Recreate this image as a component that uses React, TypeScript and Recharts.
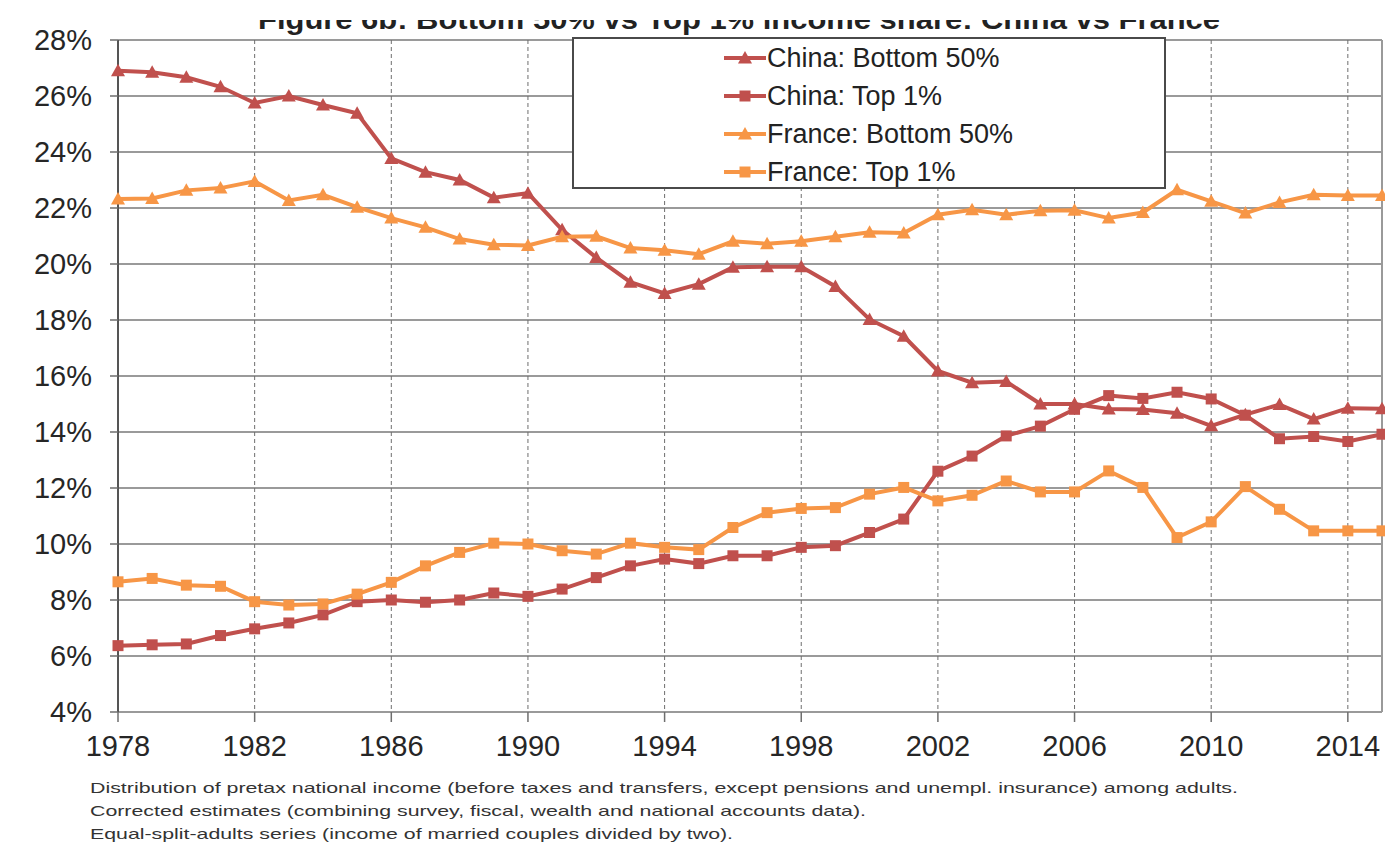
import { CartesianGrid, Legend, Line, LineChart, ReferenceLine, XAxis, YAxis } from 'recharts'

const years = [
  1978, 1979, 1980, 1981, 1982, 1983, 1984, 1985, 1986, 1987, 1988, 1989, 1990,
  1991, 1992, 1993, 1994, 1995, 1996, 1997, 1998, 1999, 2000, 2001, 2002, 2003,
  2004, 2005, 2006, 2007, 2008, 2009, 2010, 2011, 2012, 2013, 2014, 2015,
]

const chinaBottom50 = [
  26.9, 26.85, 26.67, 26.33, 25.75, 26.0, 25.68, 25.38, 23.77, 23.28, 23.0, 22.37, 22.53,
  21.22, 20.23, 19.35, 18.95, 19.28, 19.88, 19.9, 19.9, 19.2, 18.02, 17.42, 16.18, 15.76,
  15.8, 15.0, 15.0, 14.82, 14.8, 14.67, 14.22, 14.62, 14.98, 14.46, 14.85, 14.83,
]

const chinaTop1 = [
  6.37, 6.4, 6.43, 6.73, 6.97, 7.18, 7.47, 7.94, 8.0, 7.92, 8.0, 8.25, 8.13,
  8.39, 8.8, 9.22, 9.46, 9.3, 9.58, 9.58, 9.88, 9.94, 10.41, 10.89, 12.6, 13.14,
  13.86, 14.21, 14.81, 15.3, 15.2, 15.42, 15.18, 14.6, 13.76, 13.84, 13.66, 13.92,
]

const franceBottom50 = [
  22.32, 22.34, 22.63, 22.71, 22.95, 22.27, 22.47, 22.03, 21.64, 21.31, 20.89, 20.69, 20.66,
  20.97, 20.99, 20.57, 20.49, 20.35, 20.81, 20.72, 20.81, 20.97, 21.13, 21.11, 21.76, 21.94,
  21.76, 21.9, 21.92, 21.64, 21.84, 22.65, 22.24, 21.82, 22.2, 22.47, 22.45, 22.45,
]

const franceTop1 = [
  8.65, 8.77, 8.53, 8.49, 7.94, 7.82, 7.86, 8.21, 8.63, 9.22, 9.7, 10.03, 10.0,
  9.76, 9.64, 10.03, 9.88, 9.8, 10.59, 11.12, 11.27, 11.3, 11.78, 12.02, 11.54, 11.74,
  12.25, 11.86, 11.86, 12.61, 12.02, 10.23, 10.79, 12.05, 11.24, 10.47, 10.47, 10.47,
]

const xTicks = [1978, 1982, 1986, 1990, 1994, 1998, 2002, 2006, 2010, 2014]
const yTicks = [4, 6, 8, 10, 12, 14, 16, 18, 20, 22, 24, 26, 28]

const TITLE = 'Figure 6b: Bottom 50% vs Top 1% income share: China vs France'
const NOTES = [
  'Distribution of pretax national income (before taxes and transfers, except pensions and unempl. insurance) among adults.',
  'Corrected estimates (combining survey, fiscal, wealth and national accounts data).',
  'Equal-split-adults series (income of married couples divided by two).',
]

const RED = '#C0504D'
const ORANGE = '#F79646'
const FONT = '"Liberation Sans", Arial, sans-serif'

const rows = years.map((year, i) => ({
  year,
  chinaBottom: chinaBottom50[i],
  chinaTop: chinaTop1[i],
  franceBottom: franceBottom50[i],
  franceTop: franceTop1[i],
}))

const SERIES = [
  { key: 'chinaBottom', label: 'China: Bottom 50%', color: RED, shape: 'triangle' },
  { key: 'chinaTop', label: 'China: Top 1%', color: RED, shape: 'square' },
  { key: 'franceBottom', label: 'France: Bottom 50%', color: ORANGE, shape: 'triangle' },
  { key: 'franceTop', label: 'France: Top 1%', color: ORANGE, shape: 'square' },
]

function markerPath(shape: string, cx: number, cy: number) {
  if (shape === 'triangle') return `M${cx},${cy - 7} L${cx + 7},${cy + 5.5} L${cx - 7},${cy + 5.5} Z`
  return `M${cx - 5.5},${cy - 5.5} h11 v11 h-11 Z`
}

const makeDot = (shape: string, color: string) => (props: any) => {
  const { cx, cy, index } = props
  if (cx == null || cy == null) return <g key={`e-${index}`} />
  return <path key={`${shape}-${index}`} d={markerPath(shape, cx, cy)} fill={color} />
}

function LegendBox() {
  return (
    <div
      style={{
        boxSizing: 'border-box',
        width: 594,
        height: 152,
        border: '2px solid #4a4a4a',
        background: '#fff',
        paddingLeft: 150,
        fontFamily: FONT,
        fontSize: 27,
        color: '#222',
      }}
    >
      {SERIES.map((s) => (
        <div key={s.key} style={{ height: 38, display: 'flex', alignItems: 'center' }}>
          <svg width={43} height={16} style={{ flex: 'none' }}>
            <line x1={0} y1={8} x2={42} y2={8} stroke={s.color} strokeWidth={4} />
            <path d={markerPath(s.shape, 21, 8)} fill={s.color} />
          </svg>
          <span style={{ whiteSpace: 'nowrap' }}>{s.label}</span>
        </div>
      ))}
    </div>
  )
}

export default function App() {
  return (
    <div style={{ position: 'absolute', left: 0, top: 0, width: 1385, height: 846, background: '#fff' }}>
      <LineChart
        width={1385}
        height={846}
        data={rows}
        margin={{ top: 40, right: 3, bottom: 84, left: 0 }}
      >
        <CartesianGrid vertical={false} stroke="#9a9a9a" strokeWidth={2} />
        <CartesianGrid horizontal={false} stroke="#6e6e6e" strokeDasharray="4 3" strokeWidth={1} />
        <ReferenceLine x={2015} stroke="#9a9a9a" strokeWidth={2} />
        <XAxis
          dataKey="year"
          type="number"
          domain={[1978, 2015]}
          ticks={xTicks}
          interval={0}
          height={50}
          axisLine={{ stroke: '#9a9a9a', strokeWidth: 2 }}
          tickLine={{ stroke: '#6e6e6e', strokeWidth: 1.5 }}
          tickSize={10}
          tickMargin={13}
          tick={{ fontFamily: FONT, fontSize: 29, fill: '#262626' }}
        />
        <YAxis
          type="number"
          domain={[4, 28]}
          ticks={yTicks}
          interval={0}
          width={118}
          axisLine={{ stroke: '#555', strokeWidth: 2 }}
          tickLine={{ stroke: '#6e6e6e', strokeWidth: 1.5 }}
          tickSize={8}
          tickMargin={18}
          tickFormatter={(v: number) => `${v}%`}
          tick={{ fontFamily: FONT, fontSize: 29, fill: '#262626' }}
        />
        {SERIES.map((s) => (
          <Line
            key={s.key}
            dataKey={s.key}
            name={s.label}
            type="linear"
            stroke={s.color}
            strokeWidth={4}
            dot={makeDot(s.shape, s.color)}
            activeDot={false}
            isAnimationActive={false}
          />
        ))}
        <Legend
          layout="vertical"
          align="center"
          verticalAlign="middle"
          content={() => <LegendBox />}
          wrapperStyle={{ left: 572, top: 37, width: 594, height: 152 }}
        />
      </LineChart>

      <svg width={1385} height={846} style={{ position: 'absolute', left: 0, top: 0, pointerEvents: 'none' }}>
        <defs>
          <clipPath id="titleClip">
            <rect x={0} y={20} width={1385} height={17} />
          </clipPath>
        </defs>
        <text
          x={258}
          y={29}
          textLength={962}
          lengthAdjust="spacingAndGlyphs"
          fontFamily={FONT}
          fontWeight="bold"
          fontSize={28}
          fill="#222"
          clipPath="url(#titleClip)"
        >
          {TITLE}
        </text>
        {NOTES.map((line, i) => (
          <text
            key={i}
            x={90}
            y={793 + i * 23}
            textLength={[1148, 776, 643][i]}
            lengthAdjust="spacingAndGlyphs"
            fontFamily={FONT}
            fontSize={15}
            fill="#333"
          >
            {line}
          </text>
        ))}
      </svg>
    </div>
  )
}
